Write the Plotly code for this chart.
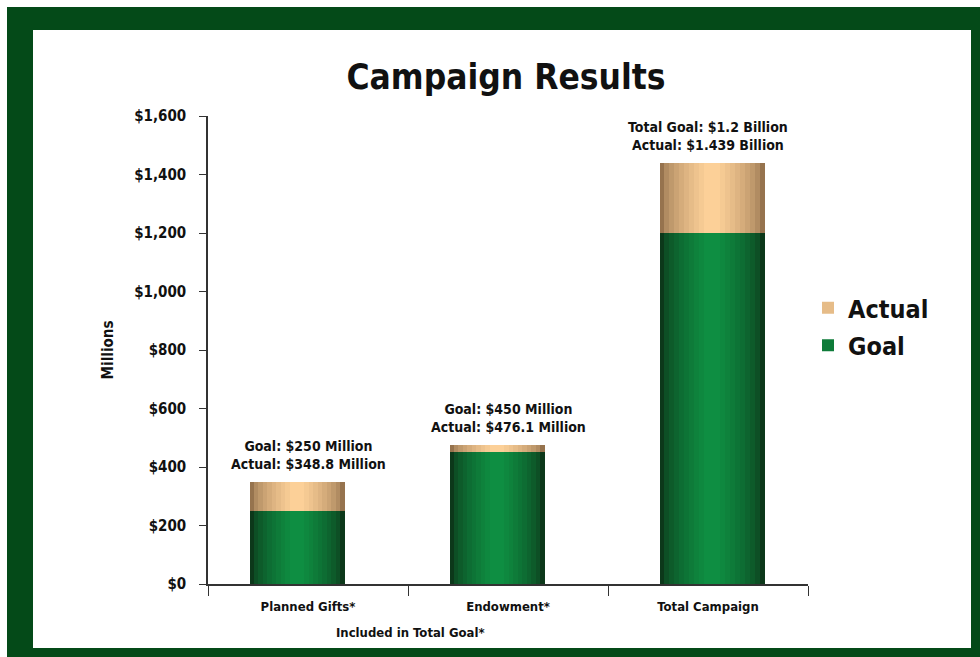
import plotly.graph_objects as go

categories = ["Planned Gifts*", "Endowment*", "Total Campaign"]
goal = [250, 450, 1200]
actual = [348.8, 476.1, 1439]
labels = [
    "Goal: $250 Million<br>Actual: $348.8 Million",
    "Goal: $450 Million<br>Actual: $476.1 Million",
    "Total Goal: $1.2 Billion<br>Actual: $1.439 Billion",
]
y_ticks = [0, 200, 400, 600, 800, 1000, 1200, 1400, 1600]
y_ticklabels = ["$0", "$200", "$400", "$600", "$800", "$1,000", "$1,200", "$1,400", "$1,600"]

W, H = 980, 657
L, R, T, B = 208, 808, 116, 584
FONT = "Liberation Sans Narrow, DejaVu Sans Condensed, Arial Narrow, sans-serif"


def px(x):
    return (x - L) / (R - L)


def py(y):
    return (B - y) / (B - T)


def lerp(c1, c2, t):
    return "rgb(%d,%d,%d)" % tuple(round(a + (b - a) * t) for a, b in zip(c1, c2))


green_edge, green_mid = (12, 56, 26), (14, 142, 66)
tan_edge, tan_mid = (150, 115, 78), (252, 208, 152)

bar_shift = [-0.055, -0.055, 0.02]   # bars sit slightly off category centres
bar_scale = [0.95, 0.95, 1.05]

fig = go.Figure()
n = 10
bw = 0.5
extra = [a - g for a, g in zip(actual, goal)]
for name, vals, base, ce, cm, rank in [
    ("Goal", goal, [0, 0, 0], green_edge, green_mid, 2),
    ("Actual", extra, goal, tan_edge, tan_mid, 1),
]:
    for i in range(n):
        t = i / (n - 1)
        f = 1 - 0.85 * t
        widths = [bw * s * f for s in bar_scale]
        offsets = [sh - w / 2 for sh, w in zip(bar_shift, widths)]
        col = lerp(ce, cm, t ** 0.6)
        fig.add_trace(go.Bar(
            x=categories, y=vals, base=base, width=widths, offset=offsets, name=name,
            marker=dict(color=col, line=dict(width=0)),
            showlegend=(i == 6), legendgroup=name, legendrank=rank,
            hoverinfo="skip",
        ))

for c, a, lab in zip(categories, actual, labels):
    fig.add_annotation(x=c, y=a, text=lab, showarrow=False, yanchor="bottom",
                       yshift=8,
                       font=dict(family=FONT, size=14, color="#111", weight="bold"))

fig.add_annotation(xref="paper", yref="paper", x=px(410), y=py(632), text="Included in Total Goal*",
                   xanchor="center", yanchor="middle",
                   showarrow=False, font=dict(family=FONT, size=13, color="#111", weight="bold"))

# frame
fig.add_shape(type="rect", xref="paper", yref="paper", layer="below",
              x0=px(7), x1=px(985), y0=py(7), y1=py(665),
              fillcolor="#044a18", line=dict(width=0))
fig.add_shape(type="rect", xref="paper", yref="paper", layer="below",
              x0=px(33), x1=px(971), y0=py(30), y1=py(648),
              fillcolor="white", line=dict(width=0))

fig.update_layout(
    width=W, height=H,
    margin=dict(l=L, r=W - R, t=T, b=H - B),
    paper_bgcolor="white", plot_bgcolor="rgba(0,0,0,0)",
    barmode="overlay",
    title=dict(text="Campaign Results", x=506 / W, xanchor="center",
               y=1 - 77 / H, yanchor="middle",
               font=dict(family=FONT, size=35, color="#111", weight="bold")),
    font=dict(family=FONT, color="#111"),
    xaxis=dict(showline=True, linecolor="#333", linewidth=1.5, ticks="outside", ticklen=10,
               tickson="boundaries", tickcolor="#333", ticklabelstandoff=10,
               tickfont=dict(family=FONT, size=13, color="#111", weight="bold"),
               showgrid=False, zeroline=False),
    yaxis=dict(range=[0, 1600], tickvals=y_ticks, ticktext=y_ticklabels,
               showline=True, linecolor="#333", linewidth=1.5, ticks="outside", ticklen=7,
               tickcolor="#333", showgrid=False, zeroline=False, ticklabelstandoff=10,
               tickfont=dict(family=FONT, size=15, color="#111", weight="bold"),
               title=dict(text="Millions", standoff=17,
                          font=dict(family=FONT, size=15, color="#111", weight="bold"))),
    legend=dict(x=px(808), y=py(285), xanchor="left", yanchor="top",
                font=dict(family=FONT, size=25, color="#111", weight="bold"),
                bgcolor="rgba(0,0,0,0)", itemwidth=30, tracegroupgap=2),
    bargap=0,
)

fig.write_html("out.html", post_script="document.body.style.margin='0';",
               config={"displayModeBar": False})
